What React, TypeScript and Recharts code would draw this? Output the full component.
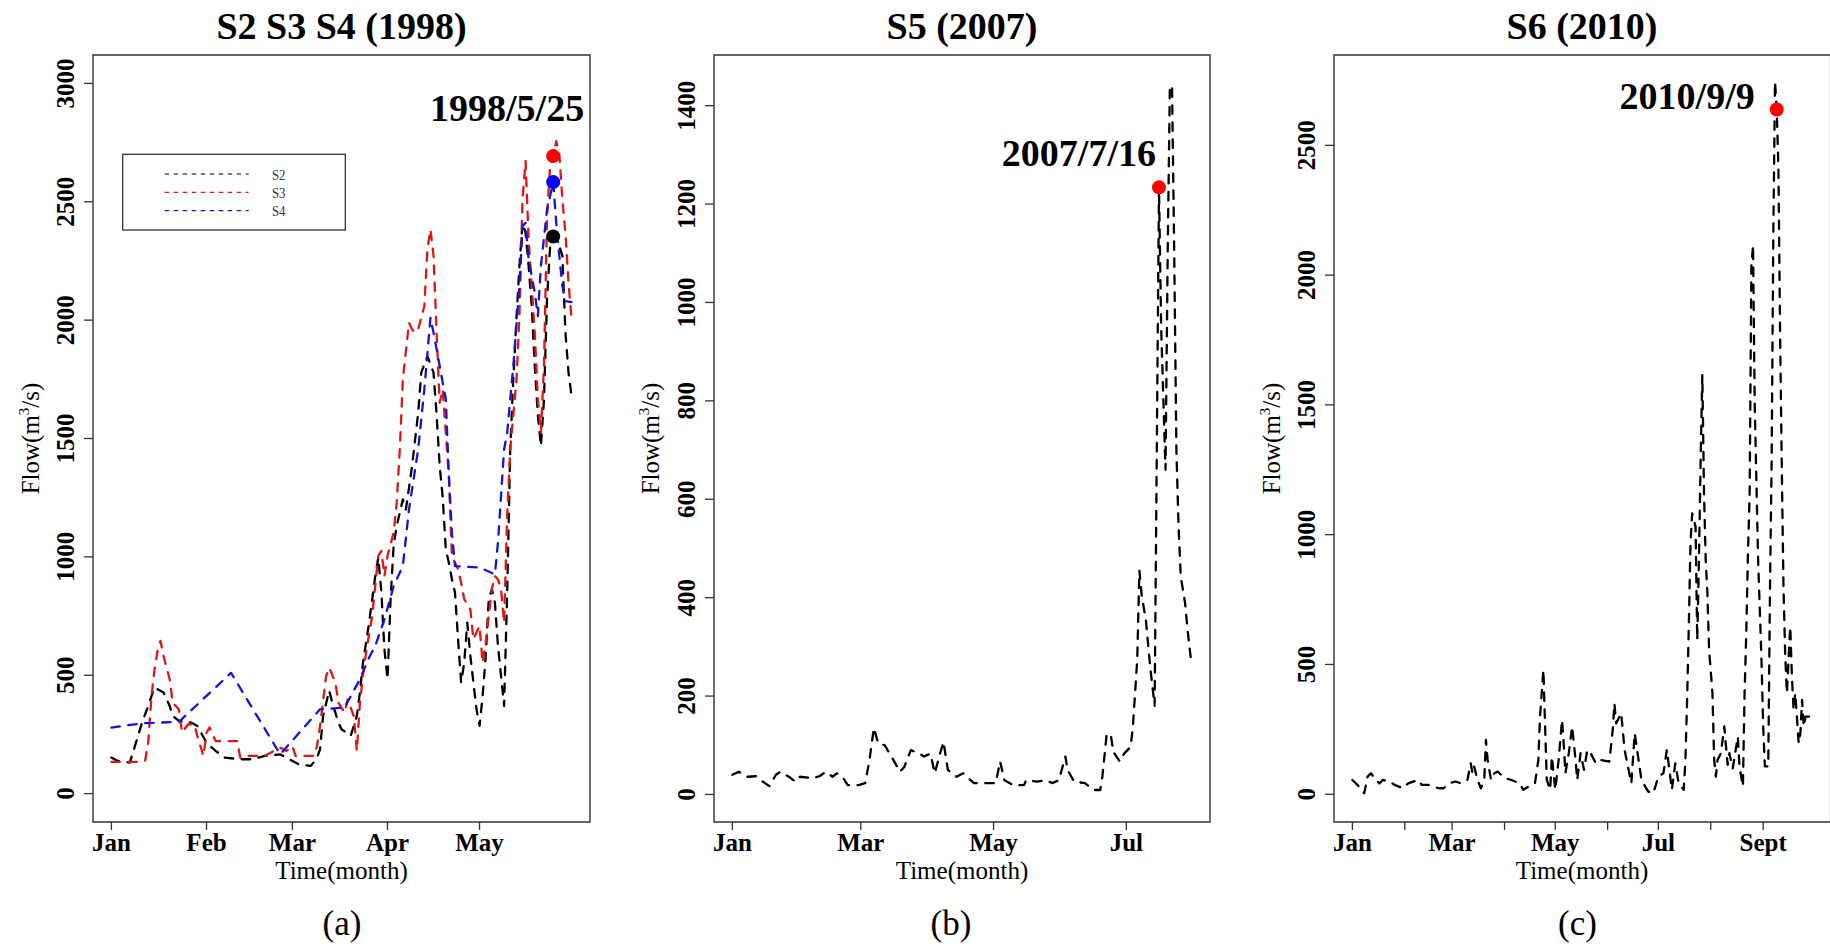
import React from 'react';
import { ComposedChart, Line, XAxis, YAxis, ReferenceArea, ReferenceDot } from 'recharts';

const FONT = '"Liberation Serif", "Times New Roman", Times, serif';
const AXIS = '#333333';

// ---------- Panel (a): S2 S3 S4 (1998) ----------
const monthTicksA = [0, 31, 59, 90, 120];
const monthLabelsA = ['Jan', 'Feb', 'Mar', 'Apr', 'May'];
const flowTicksA = [0, 500, 1000, 1500, 2000, 2500, 3000];

const s2Days = [0,2,6,8,10,12,14,17,19,20,22,26,28,31,34,37,42,46,50,55,58,61,65,67,68,69,71,72,74,75,78,80,81,82,84,86,87,88,89,90,91,92,93,95,96,98,100,101,103,105,106,107,108,109,110,111,112,113,114,115,116,117,118,119,120,121,122,123,124,125,126,127,128,129,130,131,132,133,134,135,136,137,138,139,140,141,142,143,144,146,147,148,149,150];
const s2Flow = [152,138,131,215,300,370,448,427,370,328,307,300,286,215,180,152,145,145,159,166,145,124,117,150,187,328,435,384,300,272,244,328,427,553,722,919,997,850,609,483,821,1050,1131,1243,1200,1384,1609,1778,1848,1778,1600,1384,1250,1032,975,905,849,650,469,553,722,581,469,356,286,412,581,821,863,807,624,497,370,849,1454,1750,2000,2228,2411,2369,2228,2059,1806,1600,1468,1665,2088,2313,2353,2313,2271,1947,1778,1679];

const s3Days = [0,10,11,12,13,14,15,16,17,19,20,22,23,25,27,28,30,31,32,34,41,42,44,50,55,57,59,60,66,67,68,70,71,73,74,76,77,79,80,81,82,83,85,87,88,89,90,92,93,94,95,97,98,99,100,102,103,104,105,106,107,108,109,110,111,113,114,115,117,118,120,121,122,124,125,126,127,128,129,130,131,132,133,134,135,136,137,138,139,140,141,142,143,144,145,146,147,148,149,150];
const s3Flow = [134,134,140,215,400,520,600,645,581,483,384,356,258,293,293,244,159,258,279,222,222,152,159,159,194,180,201,159,159,200,286,497,532,469,384,342,398,328,180,384,497,595,750,1004,1025,919,1004,1103,1229,1454,1750,1989,1961,1947,1961,2059,2299,2383,2271,1947,1651,1707,1524,1341,1004,947,891,821,778,652,708,553,638,863,919,905,863,722,1173,1454,1600,1736,2017,2510,2672,2341,2144,1947,1665,1524,1806,2439,2651,2693,2756,2700,2510,2369,2158,2003];

const s4Days = [0,10,22,39,55,68,76,81,84,86,89,92,95,97,100,102,104,105,107,109,110,111,112,120,125,126,128,129,131,133,134,135,136,138,139,140,142,144,145,146,147,148,150];
const s4Flow = [279,297,303,510,166,356,363,483,575,624,736,877,962,1200,1455,1707,2010,1947,1806,1665,1341,1100,961,955,926,1060,1454,1524,1806,2144,2397,2411,2256,2116,2017,2228,2467,2583,2411,2270,2144,2080,2076];

const peakDayA = 144; // 1998/5/25
const peakS2 = 2353;
const peakS3 = 2693;
const peakS4 = 2583;

// ---------- Panel (b): S5 (2007) ----------
const monthTicksB = [0, 59, 120, 181];
const monthLabelsB = ['Jan', 'Mar', 'May', 'Jul'];
const flowTicksB = [0, 200, 400, 600, 800, 1000, 1200, 1400];

const s5Days = [0,3,7,11,14,17,20,22,26,29,31,37,40,43,46,48,51,53,58,61,63,65,67,70,74,77,79,82,86,88,91,93,95,97,99,103,106,111,118,121,123,125,129,134,135,140,144,147,150,153,154,157,162,166,169,170,172,174,175,178,180,183,184,185,186,187,188,190,192,194,195,196,197,199,200,201,202,203,204,205,206,208,209,210,211];
const s5Flow = [40,46,36,37,26,17,40,46,36,26,36,33,37,46,36,43,33,19,19,23,70,135,104,100,70,46,56,90,83,77,83,43,77,107,50,36,43,23,23,23,67,29,19,19,29,26,29,23,29,77,50,26,23,9,9,36,124,117,87,67,83,97,138,205,273,455,407,353,258,180,700,1234,950,660,1100,1440,1440,1100,700,544,443,389,341,300,263];

const peakDayB = 196; // 2007/7/16
const peakS5 = 1234;

// ---------- Panel (c): S6 (2010) ----------
const monthTicksC = [0, 31, 59, 90, 120, 151, 181, 212, 243];
const monthLabelsC = ['Jan', '', 'Mar', '', 'May', '', 'Jul', '', 'Sept'];
const flowTicksC = [0, 500, 1000, 1500, 2000, 2500];

const s6Days = [0,3,7,9,11,13,16,18,22,25,30,33,39,41,45,51,54,57,61,64,68,70,71,72,74,76,78,79,80,82,84,86,90,94,99,101,106,108,110,111,112,113,114,115,117,118,120,122,124,125,126,128,130,132,133,135,137,139,141,144,147,152,154,155,156,159,161,163,165,167,169,171,175,178,181,184,186,189,191,193,196,197,198,199,200,201,203,204,205,206,207,208,209,210,211,213,214,215,216,218,220,221,222,223,225,228,229,231,232,233,234,235,236,237,238,240,242,243,244,246,247,248,249,250,251,252,253,254,255,256,257,258,259,260,261,262,264,265,266,267,268,270,272];
const s6Flow = [55,36,4,68,81,62,42,55,49,36,23,42,55,36,36,23,23,42,49,42,55,119,81,107,55,23,55,209,132,55,81,87,62,55,42,17,36,42,132,300,389,479,261,55,17,145,17,132,286,196,81,158,261,132,55,158,94,171,158,119,132,126,248,350,273,312,171,107,42,235,145,55,10,4,68,81,171,17,119,42,17,132,363,646,967,1082,1031,594,903,1288,1615,1160,903,774,556,389,132,68,132,158,261,184,113,158,100,222,107,30,389,620,928,1160,2032,2115,1500,903,517,261,107,107,774,1288,2160,2745,2638,2418,1776,1263,800,543,389,517,646,453,325,389,196,235,363,261,299,299,312];

const peakDayC = 251; // 2010/9/9
const peakS6 = 2638;

type Pt = { d: number; v: number };
const zip = (days: number[], flow: number[]): Pt[] => days.map((d, i) => ({ d, v: flow[i] }));

const XTick = (props: any) => {
  const { x, y, payload, ticks, labels } = props;
  const idx = ticks.indexOf(payload.value);
  const lab = idx >= 0 ? labels[idx] : '';
  return (
    <text x={x} y={y} dy={19} textAnchor="middle" fontFamily={FONT} fontWeight="bold" fontSize={25} fill="#000">
      {lab}
    </text>
  );
};

const YTick = (props: any) => {
  const { x, y, payload } = props;
  return (
    <text x={x} y={y} transform={`rotate(-90 ${x} ${y})`} textAnchor="middle" fontFamily={FONT} fontWeight="bold" fontSize={25} fill="#000">
      {payload.value}
    </text>
  );
};

type Series = { key: string; data: Pt[]; color: string };
type Dot = { key: string; d: number; v: number; color: string; label?: string; ldx?: number; ldy?: number };

function Panel(props: {
  left: number; width: number; yAxisWidth: number; rightMargin: number;
  xDomain: [number, number]; yDomain: [number, number];
  xTicks: number[]; xLabels: string[]; yTicks: number[];
  series: Series[]; dots: Dot[];
}) {
  const { left, width, yAxisWidth, rightMargin, xDomain, yDomain, xTicks, xLabels, yTicks, series, dots } = props;
  return (
    <div style={{ position: 'absolute', left, top: 0 }}>
      <ComposedChart width={width} height={946} margin={{ top: 55, right: rightMargin, bottom: 84, left: 0 }}>
        <XAxis
          type="number" dataKey="d" domain={xDomain} ticks={xTicks} interval={0} allowDataOverflow
          axisLine={false} tickSize={8} tickMargin={2} height={40}
          tickLine={{ stroke: AXIS, strokeWidth: 1.3 }}
          tick={<XTick ticks={xTicks} labels={xLabels} />}
        />
        <YAxis
          type="number" dataKey="v" domain={yDomain} ticks={yTicks} interval={0} allowDataOverflow
          axisLine={false} tickSize={9} tickMargin={10} width={yAxisWidth}
          tickLine={{ stroke: AXIS, strokeWidth: 1.3 }}
          tick={<YTick />}
        />
        <ReferenceArea x1={xDomain[0]} x2={xDomain[1]} y1={yDomain[0]} y2={yDomain[1]} fill="none" fillOpacity={0} stroke={AXIS} strokeWidth={1.4} ifOverflow="visible" />
        {series.map((s) => (
          <Line
            key={s.key} data={s.data} dataKey="v" type="linear" stroke={s.color} strokeWidth={2.3}
            strokeDasharray="8.5 8.5" strokeLinecap="round" strokeLinejoin="round"
            dot={false} activeDot={false} isAnimationActive={false} legendType="none"
          />
        ))}
        {dots.map((p) => (
          <ReferenceDot
            key={p.key} x={p.d} y={p.v} r={7} ifOverflow="visible"
            shape={(sp: any) => (
              <g>
                <circle cx={sp.cx} cy={sp.cy} r={7} fill={p.color} />
                {p.label ? (
                  <text x={sp.cx + (p.ldx || 0)} y={sp.cy + (p.ldy || 0)} textAnchor="end" fontFamily={FONT} fontWeight="bold" fontSize={38} fill="#000">
                    {p.label}
                  </text>
                ) : null}
              </g>
            )}
          />
        ))}
      </ComposedChart>
    </div>
  );
}

const RED_LINE = '#e01616';
const BLUE_LINE = '#1414d8';

function YTitle({ x, y }: { x: number; y: number }) {
  return (
    <text x={x} y={y} transform={`rotate(-90 ${x} ${y})`} textAnchor="middle" fontFamily={FONT} fontSize={25} fill="#000">
      Flow(m<tspan dy={-10} fontSize={15}>3</tspan><tspan dy={10}>/s)</tspan>
    </text>
  );
}

export default function App() {
  const tx = { fontFamily: FONT, fill: '#000' } as const;
  return (
    <div style={{ position: 'absolute', left: 0, top: 0, width: 1830, height: 946, overflow: 'hidden', background: '#fff' }}>
      <Panel
        left={0} width={610} yAxisWidth={93} rightMargin={20}
        xDomain={[-6, 156]} yDomain={[-120, 3120]}
        xTicks={monthTicksA} xLabels={monthLabelsA} yTicks={flowTicksA}
        series={[
          { key: 's2', data: zip(s2Days, s2Flow), color: '#000000' },
          { key: 's3', data: zip(s3Days, s3Flow), color: RED_LINE },
          { key: 's4', data: zip(s4Days, s4Flow), color: BLUE_LINE },
        ]}
        dots={[
          { key: 'd2', d: peakDayA, v: peakS2, color: '#000000' },
          { key: 'd4', d: peakDayA, v: peakS4, color: '#0000ff' },
          { key: 'd3', d: peakDayA, v: peakS3, color: '#ff0000', label: '1998/5/25', ldx: 31, ldy: -35 },
        ]}
      />
      <Panel
        left={610} width={610} yAxisWidth={104} rightMargin={10}
        xDomain={[-8.44, 219.44]} yDomain={[-56, 1503]}
        xTicks={monthTicksB} xLabels={monthLabelsB} yTicks={flowTicksB}
        series={[{ key: 's5', data: zip(s5Days, s5Flow), color: '#000000' }]}
        dots={[{ key: 'd5', d: peakDayB, v: peakS5, color: '#ff0000', label: '2007/7/16', ldx: -3, ldy: -21 }]}
      />
      <Panel
        left={1220} width={620} yAxisWidth={114} rightMargin={9.4}
        xDomain={[-10.88, 282.88]} yDomain={[-107, 2848]}
        xTicks={monthTicksC} xLabels={monthLabelsC} yTicks={flowTicksC}
        series={[{ key: 's6', data: zip(s6Days, s6Flow), color: '#000000' }]}
        dots={[{ key: 'd6', d: peakDayC, v: peakS6, color: '#ff0000', label: '2010/9/9', ldx: -22, ldy: -1 }]}
      />
      <svg width={1830} height={946} style={{ position: 'absolute', left: 0, top: 0, pointerEvents: 'none' }}>
        <g {...tx} fontWeight="bold" fontSize={38} textAnchor="middle">
          <text x={341.5} y={39}>S2 S3 S4 (1998)</text>
          <text x={962} y={39}>S5 (2007)</text>
          <text x={1582} y={39}>S6 (2010)</text>
        </g>
        <YTitle x={39} y={438.5} />
        <YTitle x={659} y={438.5} />
        <YTitle x={1280} y={438.5} />
        <g {...tx} fontSize={25} textAnchor="middle">
          <text x={341.5} y={879}>Time(month)</text>
          <text x={962} y={879}>Time(month)</text>
          <text x={1582} y={879}>Time(month)</text>
        </g>
        <g {...tx} fontSize={35} textAnchor="middle">
          <text x={342} y={935}>(a)</text>
          <text x={951} y={935}>(b)</text>
          <text x={1577.5} y={935}>(c)</text>
        </g>
        <g>
          <rect x={122.7} y={154.3} width={222.6} height={75.7} fill="#fff" stroke={AXIS} strokeWidth={1.3} />
          <line x1={164.7} x2={248.7} y1={174} y2={174} stroke="#000" strokeWidth={1.2} strokeDasharray="4.5 4.5" />
          <line x1={164.7} x2={248.7} y1={192.3} y2={192.3} stroke={RED_LINE} strokeWidth={1.2} strokeDasharray="4.5 4.5" />
          <line x1={164.7} x2={248.7} y1={210.7} y2={210.7} stroke={BLUE_LINE} strokeWidth={1.2} strokeDasharray="4.5 4.5" />
          <g fontFamily={FONT} fontSize={15} fill="#333">
            <text x={272} y={179.5} textLength={13.5} lengthAdjust="spacingAndGlyphs">S2</text>
            <text x={272} y={197.8} textLength={13.5} lengthAdjust="spacingAndGlyphs">S3</text>
            <text x={272} y={216.2} textLength={13.5} lengthAdjust="spacingAndGlyphs">S4</text>
          </g>
        </g>
      </svg>
    </div>
  );
}
